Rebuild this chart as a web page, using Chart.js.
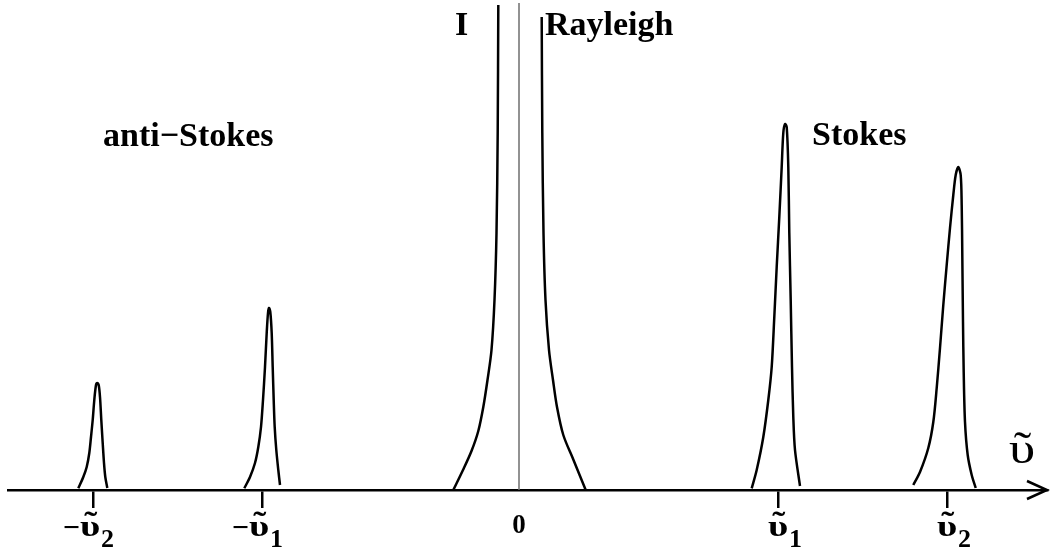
<!DOCTYPE html>
<html>
<head>
<meta charset="utf-8">
<script src="https://cdn.jsdelivr.net/npm/chart.js@4.4.0/dist/chart.umd.min.js"></script>
<style>
  html, body { margin: 0; padding: 0; background: #fff; }
  canvas { display: block; }
</style>
</head>
<body>
<canvas id="ramanChart" width="1050" height="550"></canvas>
<script>
// band outlines: x = shift from the laser line, y = intensity (arb. units)
const antiStokes2 = [
    { x: -440.7, y: 1.7 }, { x: -435.7, y: 13 }, { x: -432.3, y: 23 }, { x: -429.7, y: 37 },
    { x: -428, y: 53 }, { x: -426.3, y: 70 }, { x: -424.7, y: 90 }, { x: -423, y: 105 },
    { x: -421.7, y: 107 }, { x: -420.3, y: 105 }, { x: -419, y: 93 }, { x: -417.7, y: 70 },
    { x: -416.3, y: 47 }, { x: -415, y: 27 }, { x: -413.7, y: 13 }, { x: -411.7, y: 2 },
];
const antiStokes1 = [
    { x: -274.7, y: 1.7 }, { x: -269, y: 13 }, { x: -264, y: 27 }, { x: -260.7, y: 43 },
    { x: -258, y: 63 }, { x: -256, y: 90 }, { x: -254, y: 123 }, { x: -252.3, y: 157 },
    { x: -251, y: 177 }, { x: -250, y: 182 }, { x: -248.7, y: 178 }, { x: -247.3, y: 157 },
    { x: -246.3, y: 123 }, { x: -245.3, y: 90 }, { x: -244.3, y: 63 }, { x: -242.7, y: 40 },
    { x: -240.7, y: 20 }, { x: -239, y: 5 },
];
const rayleighLeft = [
    { x: -65.7, y: 0 }, { x: -56, y: 20 }, { x: -47.5, y: 39 }, { x: -40.7, y: 59 },
    { x: -35.7, y: 83 }, { x: -31.5, y: 110 }, { x: -27.5, y: 140 }, { x: -24.5, y: 190 },
    { x: -22.5, y: 257 }, { x: -21.3, y: 357 }, { x: -20.7, y: 485 },
];
const rayleighRight = [
    { x: 22.7, y: 473 }, { x: 23.3, y: 357 }, { x: 24.5, y: 257 }, { x: 26.5, y: 190 },
    { x: 30, y: 140 }, { x: 34, y: 110 }, { x: 38, y: 83 }, { x: 44.3, y: 55 },
    { x: 54.5, y: 30 }, { x: 66.7, y: 0 },
];
const stokes1 = [
    { x: 232.7, y: 1.7 }, { x: 237.7, y: 20 }, { x: 244.3, y: 53 }, { x: 249.3, y: 90 },
    { x: 252.7, y: 123 }, { x: 255.3, y: 173 }, { x: 257.7, y: 223 }, { x: 260.3, y: 273 },
    { x: 262.7, y: 323 }, { x: 264.3, y: 357 }, { x: 266, y: 366 }, { x: 267.7, y: 363 },
    { x: 269.3, y: 323 }, { x: 270.3, y: 257 }, { x: 271.7, y: 190 }, { x: 273, y: 123 },
    { x: 274.3, y: 73 }, { x: 276, y: 40 }, { x: 281, y: 4 },
];
const stokes2 = [
    { x: 394.3, y: 5 }, { x: 401, y: 18 }, { x: 409.3, y: 42 }, { x: 414.3, y: 68 },
    { x: 417.7, y: 102 }, { x: 421, y: 142 }, { x: 424.3, y: 185 }, { x: 427.7, y: 225 },
    { x: 431, y: 262 }, { x: 434.3, y: 295 }, { x: 436.7, y: 315 }, { x: 439.3, y: 323 },
    { x: 441.7, y: 315 }, { x: 442.7, y: 285 }, { x: 443.3, y: 235 }, { x: 444, y: 168 },
    { x: 444.7, y: 118 }, { x: 446, y: 68 }, { x: 448.7, y: 35 }, { x: 452.7, y: 15 },
    { x: 456.7, y: 2 },
];
const laserLine = [{ x: 0, y: 0 }, { x: 0, y: 487 }];

// axis ticks: -v2, -v1, 0, v1, v2
const tickValues = [-426, -257, 0, 259, 428];
const tickSigns = ['\u2212', '\u2212', '', '', ''];
const tickSymbols = ['\u03C5', '\u03C5', '0', '\u03C5', '\u03C5'];
const tickSubscripts = ['2', '1', '', '1', '2'];

const serif = '"Liberation Serif", "Times New Roman", serif';

function band(points) {
    return {
        data: points,
        showLine: true,
        borderColor: '#000',
        borderWidth: 2.5,
        pointRadius: 0,
        tension: 0.3,
    };
}

// upsilon with a tilde on top (wavenumber symbol), widened like the Symbol font glyph
function drawWavenumber(ctx, font, cx, baseline, lift, stretch) {
    ctx.save();
    ctx.font = font;
    ctx.textAlign = 'center';
    ctx.translate(cx, baseline);
    ctx.scale(stretch, 1);
    ctx.fillText('\u03C5', 0, 0);
    ctx.fillText('\u02DC', 0.5, -lift);
    const w = ctx.measureText('\u03C5').width * stretch;
    ctx.restore();
    return w;
}

const labelPlugin = {
    id: 'spectrumLabels',
    afterDraw(chart) {
        const { ctx, chartArea, scales: { x } } = chart;
        ctx.save();
        ctx.fillStyle = '#000';
        ctx.strokeStyle = '#000';
        ctx.textBaseline = 'alphabetic';

        // tick labels with subscripts
        tickValues.forEach((v, i) => {
            const px = x.getPixelForValue(v);
            if (tickSymbols[i] === '0') {
                ctx.font = `bold 27px ${serif}`;
                ctx.textAlign = 'center';
                ctx.fillText('0', px, 533);
                return;
            }
            const cx = tickSigns[i] ? px - 3 : px;
            const w = drawWavenumber(ctx, `bold 30px ${serif}`, cx, 536, 4, 1.3);
            if (tickSigns[i]) {
                ctx.font = `bold 30px ${serif}`;
                ctx.textAlign = 'right';
                ctx.fillText(tickSigns[i], cx - w / 2, 537);
            }
            ctx.font = `bold 26px ${serif}`;
            ctx.textAlign = 'left';
            ctx.fillText(tickSubscripts[i], cx + w / 2 + 1, 547);
        });

        // axis label and arrow head
        drawWavenumber(ctx, `44px ${serif}`, 1022, 463, 1, 1.2);

        const yAxis = chartArea.bottom;
        ctx.lineWidth = 2.5;
        ctx.beginPath();
        ctx.moveTo(chartArea.right - 20, yAxis - 9);
        ctx.lineTo(chartArea.right, yAxis);
        ctx.lineTo(chartArea.right - 20, yAxis + 9);
        ctx.stroke();

        // annotations
        ctx.font = `bold 34px ${serif}`;
        ctx.textAlign = 'left';
        ctx.fillText('I', 455, 35);
        ctx.fillText('Rayleigh', 545, 35);
        ctx.fillText('anti\u2212Stokes', 103, 146);
        ctx.fillText('Stokes', 812, 145);
        ctx.restore();
    },
};

const config = {
    type: 'scatter',
    data: {
        datasets: [
            band(antiStokes2),
            band(antiStokes1),
            band(rayleighLeft),
            band(rayleighRight),
            band(stokes1),
            band(stokes2),
            {
                data: laserLine,
                showLine: true,
                borderColor: '#6e6e6e',
                borderWidth: 1.5,
                pointRadius: 0,
            },
        ],
    },
    options: {
        responsive: false,
        animation: false,
        layout: {
            padding: { left: 8, right: 3, top: 0, bottom: 0 },
        },
        plugins: {
            legend: { display: false },
            tooltip: { enabled: false },
        },
        scales: {
            x: {
                type: 'linear',
                min: -511,
                max: 528,
                afterBuildTicks: (scale) => {
                    scale.ticks = tickValues.map((v) => ({ value: v }));
                },
                afterFit: (scale) => {
                    scale.height = 60;
                },
                ticks: { display: false },
                border: { display: true, color: '#000', width: 2.5 },
                grid: {
                    drawOnChartArea: false,
                    drawTicks: true,
                    tickLength: 18,
                    lineWidth: 2.5,
                    tickColor: (c) => (c.tick && c.tick.value === 0 ? 'rgba(0,0,0,0)' : '#000'),
                },
            },
            y: {
                display: false,
                min: 0,
                max: 490,
            },
        },
    },
    plugins: [labelPlugin],
};

const ramanChart = new Chart(document.getElementById('ramanChart'), config);
</script>
</body>
</html>
